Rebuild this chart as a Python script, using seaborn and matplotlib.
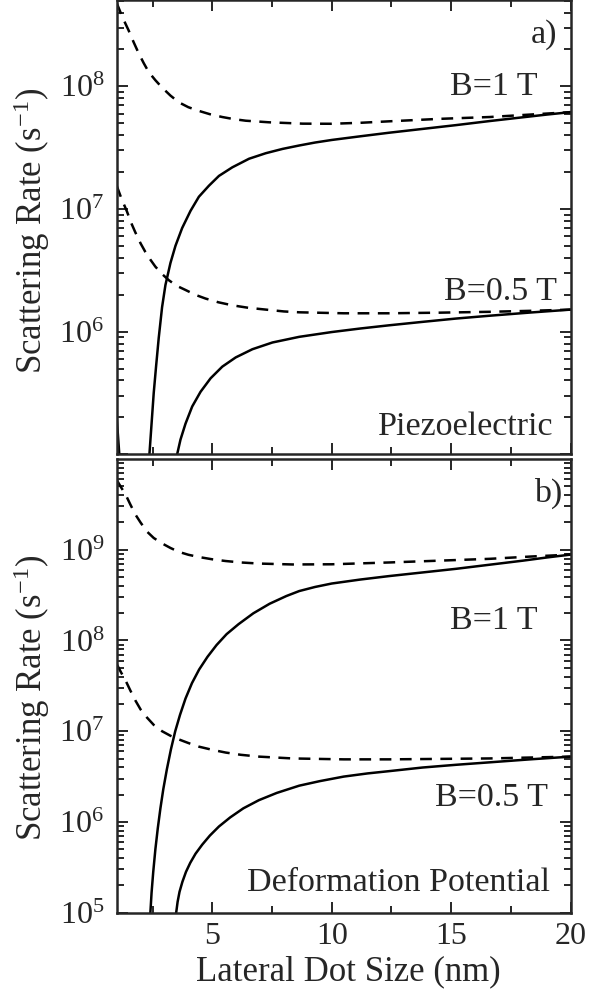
import numpy as np
import pandas as pd
import matplotlib
matplotlib.use("Agg")
import matplotlib.pyplot as plt
import seaborn as sns
from matplotlib.ticker import LogLocator, MultipleLocator, NullFormatter, FixedLocator

# ---------------- data (log10 of scattering rate) ----------------
# Panel a) Piezoelectric
pz_1T_dash_x = [1.00, 1.25, 1.50, 1.71, 1.92, 2.13, 2.34, 2.62, 2.90, 3.25, 3.60, 4.00, 4.44, 4.90, 5.42,
                5.90, 6.40, 7.38, 8.78, 10.0, 11.2, 12.4, 14.5, 16.6, 18.3, 20.0]
pz_1T_dash_lg = [8.68, 8.56, 8.456, 8.36, 8.27, 8.19, 8.117, 8.05, 7.99, 7.925, 7.87, 7.83, 7.80, 7.773, 7.75,
                 7.733, 7.72, 7.707, 7.696, 7.695, 7.703, 7.715, 7.735, 7.75, 7.77, 7.79]

pz_1T_solid_x = [2.34, 2.37, 2.46, 2.55, 2.65, 2.76, 2.90, 3.04, 3.25, 3.46, 3.74, 4.09, 4.44, 4.86, 5.28,
                 5.84, 6.54, 7.24, 7.94, 8.64, 9.30, 10.0, 11.2, 12.4, 13.8, 15.2, 16.6, 18.0, 19.0, 20.0]
pz_1T_solid_lg = [4.3, 5.0, 5.25, 5.50, 5.72, 5.95, 6.20, 6.38, 6.56, 6.70, 6.845, 6.985, 7.10, 7.19, 7.27,
                  7.34, 7.41, 7.455, 7.49, 7.518, 7.542, 7.563, 7.593, 7.622, 7.653, 7.684, 7.717, 7.748, 7.77, 7.79]

pz_1T_edge_x = [1.00, 1.11, 1.14]
pz_1T_edge_lg = [5.30, 5.0, 4.5]

pz_05T_dash_x = [1.00, 1.20, 1.43, 1.60, 1.78, 2.00, 2.20, 2.40, 2.62, 2.90, 3.18, 3.50, 3.88, 4.30, 4.72,
                 5.25, 5.84, 6.50, 7.24, 8.00, 8.64, 10.5, 12.4, 14.5, 16.6, 18.3, 20.0]
pz_05T_dash_lg = [7.19, 7.085, 6.98, 6.89, 6.81, 6.72, 6.65, 6.59, 6.53, 6.47, 6.42, 6.375, 6.34, 6.30, 6.27,
                  6.24, 6.215, 6.195, 6.18, 6.165, 6.158, 6.15, 6.15, 6.155, 6.162, 6.17, 6.18]

pz_05T_solid_x = [3.49, 3.53, 3.67, 3.88, 4.16, 4.51, 4.93, 5.42, 5.98, 6.68, 7.52, 8.64, 10.0, 11.2, 12.4,
                  13.8, 15.2, 16.6, 18.3, 20.0]
pz_05T_solid_lg = [4.3, 5.0, 5.12, 5.25, 5.39, 5.51, 5.62, 5.715, 5.79, 5.857, 5.912, 5.958, 5.997, 6.026, 6.052,
                   6.08, 6.107, 6.13, 6.156, 6.18]

# Panel b) Deformation potential
dp_1T_dash_x = [1.00, 1.18, 1.37, 1.57, 1.78, 2.00, 2.27, 2.55, 2.90, 3.25, 3.60, 4.00, 4.44, 5.00, 5.56,
                6.20, 6.96, 8.36, 10.0, 11.2, 12.4, 14.5, 16.6, 18.3, 20.0]
dp_1T_dash_lg = [9.77, 9.69, 9.61, 9.50, 9.39, 9.30, 9.20, 9.13, 9.07, 9.02, 8.977, 8.945, 8.92, 8.895, 8.876,
                 8.86, 8.848, 8.838, 8.84, 8.85, 8.86, 8.88, 8.90, 8.925, 8.947]

dp_1T_solid_x = [2.38, 2.41, 2.46, 2.53, 2.62, 2.72, 2.83, 2.95, 3.10, 3.27, 3.45, 3.65, 3.88, 4.15, 4.45,
                 4.80, 5.18, 5.60, 6.10, 6.72, 7.40, 8.10, 8.64, 9.30, 10.0, 11.2, 12.4, 13.8, 15.2, 16.6,
                 18.0, 19.0, 20.0]
dp_1T_solid_lg = [4.3, 5.0, 5.22, 5.45, 5.70, 5.93, 6.15, 6.36, 6.58, 6.80, 7.00, 7.18, 7.36, 7.53, 7.68,
                  7.82, 7.95, 8.07, 8.18, 8.30, 8.405, 8.49, 8.545, 8.59, 8.628, 8.672, 8.71, 8.75, 8.79, 8.835,
                  8.88, 8.915, 8.947]

dp_05T_dash_x = [1.00, 1.18, 1.37, 1.57, 1.78, 2.00, 2.27, 2.55, 2.90, 3.25, 3.60, 4.00, 4.44, 5.00, 5.56,
                 6.20, 6.96, 8.36, 10.5, 12.4, 14.5, 16.6, 18.3, 20.0]
dp_05T_dash_lg = [7.74, 7.65, 7.56, 7.45, 7.34, 7.24, 7.15, 7.07, 7.00, 6.95, 6.91, 6.87, 6.83, 6.795, 6.765,
                  6.74, 6.72, 6.70, 6.69, 6.69, 6.695, 6.70, 6.71, 6.72]

dp_05T_solid_x = [3.46, 3.49, 3.55, 3.63, 3.75, 3.90, 4.08, 4.30, 4.58, 4.90, 5.28, 5.75, 6.30, 6.95, 7.70,
                  8.64, 9.50, 10.5, 11.5, 12.4, 13.8, 15.2, 16.6, 18.3, 20.0]
dp_05T_solid_lg = [4.3, 5.0, 5.12, 5.23, 5.34, 5.45, 5.55, 5.65, 5.75, 5.85, 5.95, 6.05, 6.15, 6.24, 6.32,
                   6.40, 6.45, 6.50, 6.535, 6.56, 6.60, 6.63, 6.657, 6.69, 6.72]

x_major_ticks = [5, 10, 15, 20]
x_tick_labels = ["5", "10", "15", "20"]
a_yticks = [1e5, 1e6, 1e7, 1e8]
a_ylabels = ["", r"$10^{6}$", r"$10^{7}$", r"$10^{8}$"]
b_yticks = [1e5, 1e6, 1e7, 1e8, 1e9]
b_ylabels = [r"$10^{5}$", r"$10^{6}$", r"$10^{7}$", r"$10^{8}$", r"$10^{9}$"]

# ---------------- style ----------------
sns.set_style("ticks")
plt.rcParams["font.family"] = ["Liberation Serif", "DejaVu Serif"]
plt.rcParams["mathtext.fontset"] = "custom"
plt.rcParams["mathtext.rm"] = "Liberation Serif"
plt.rcParams["mathtext.it"] = "Liberation Serif:italic"
plt.rcParams["mathtext.bf"] = "Liberation Serif:bold"
plt.rcParams["axes.linewidth"] = 1.8

LW = 1.8
DASH = (0, (4.7, 3.4))
TXT = 24.5

fig = plt.figure(figsize=(5.89, 9.99), dpi=100)
ax_a = fig.add_axes([0.1981, 0.5452, 0.7708, 0.4543])
ax_b = fig.add_axes([0.1981, 0.0864, 0.7708, 0.4541])


def draw(ax, x, lg, dashed):
    df = pd.DataFrame({"size": x, "rate": np.power(10.0, lg)})
    sns.lineplot(data=df, x="size", y="rate", ax=ax, color="black", lw=LW,
                 linestyle=DASH if dashed else "-", estimator=None, sort=False,
                 legend=False)


draw(ax_a, pz_1T_dash_x, pz_1T_dash_lg, True)
draw(ax_a, pz_1T_solid_x, pz_1T_solid_lg, False)
draw(ax_a, pz_1T_edge_x, pz_1T_edge_lg, False)
draw(ax_a, pz_05T_dash_x, pz_05T_dash_lg, True)
draw(ax_a, pz_05T_solid_x, pz_05T_solid_lg, False)

draw(ax_b, dp_1T_dash_x, dp_1T_dash_lg, True)
draw(ax_b, dp_1T_solid_x, dp_1T_solid_lg, False)
draw(ax_b, dp_05T_dash_x, dp_05T_dash_lg, True)
draw(ax_b, dp_05T_solid_x, dp_05T_solid_lg, False)

for ax in (ax_a, ax_b):
    ax.set_yscale("log")
    ax.set_xlim(1, 20)
    ax.xaxis.set_major_locator(FixedLocator(x_major_ticks))
    ax.xaxis.set_minor_locator(MultipleLocator(2.5))
    ax.yaxis.set_minor_locator(LogLocator(base=10, subs=np.arange(2, 10)))
    ax.yaxis.set_minor_formatter(NullFormatter())
    ax.tick_params(which="both", direction="in", top=True, right=True, width=1.4)
    ax.tick_params(which="major", length=8)
    ax.tick_params(which="minor", length=5)
    ax.tick_params(axis="y", which="major", pad=9, labelsize=23)
    ax.tick_params(axis="x", which="major", pad=7, labelsize=23)
    for sp in ax.spines.values():
        sp.set_linewidth(1.8)
    ax.set_ylabel("Scattering Rate (s$^{-1}$)", fontsize=25)
    ax.set_xlabel("")

ax_a.set_ylim(1e5, 10 ** 8.70)
ax_b.set_ylim(1e5, 1e10)
ax_a.set_yticks(a_yticks, labels=a_ylabels)
ax_b.set_yticks(b_yticks, labels=b_ylabels)
ax_a.set_xticks(x_major_ticks, labels=[""] * len(x_major_ticks))
ax_b.set_xticks(x_major_ticks, labels=x_tick_labels)
ax_b.set_xlabel("Lateral Dot Size (nm)", fontsize=25)

ax_a.yaxis.set_label_coords(-0.143, 0.493)
ax_b.yaxis.set_label_coords(-0.143, 0.473)
ax_b.xaxis.set_label_coords(0.511, -0.095)

# annotations
ax_a.text(0.970, 0.9075, "a)", transform=ax_a.transAxes, ha="right", va="baseline", fontsize=TXT)
ax_a.text(0.928, 0.791, "B=1 T", transform=ax_a.transAxes, ha="right", va="baseline", fontsize=TXT)
ax_a.text(0.970, 0.339, "B=0.5 T", transform=ax_a.transAxes, ha="right", va="baseline", fontsize=TXT)
ax_a.text(0.961, 0.042, "Piezoelectric", transform=ax_a.transAxes, ha="right", va="baseline", fontsize=TXT)

ax_b.text(0.981, 0.905, "b)", transform=ax_b.transAxes, ha="right", va="baseline", fontsize=TXT)
ax_b.text(0.928, 0.626, "B=1 T", transform=ax_b.transAxes, ha="right", va="baseline", fontsize=TXT)
ax_b.text(0.950, 0.235, "B=0.5 T", transform=ax_b.transAxes, ha="right", va="baseline", fontsize=TXT)
ax_b.text(0.954, 0.0485, "Deformation Potential", transform=ax_b.transAxes, ha="right", va="baseline", fontsize=TXT)

fig.savefig("out.png", dpi=100)
